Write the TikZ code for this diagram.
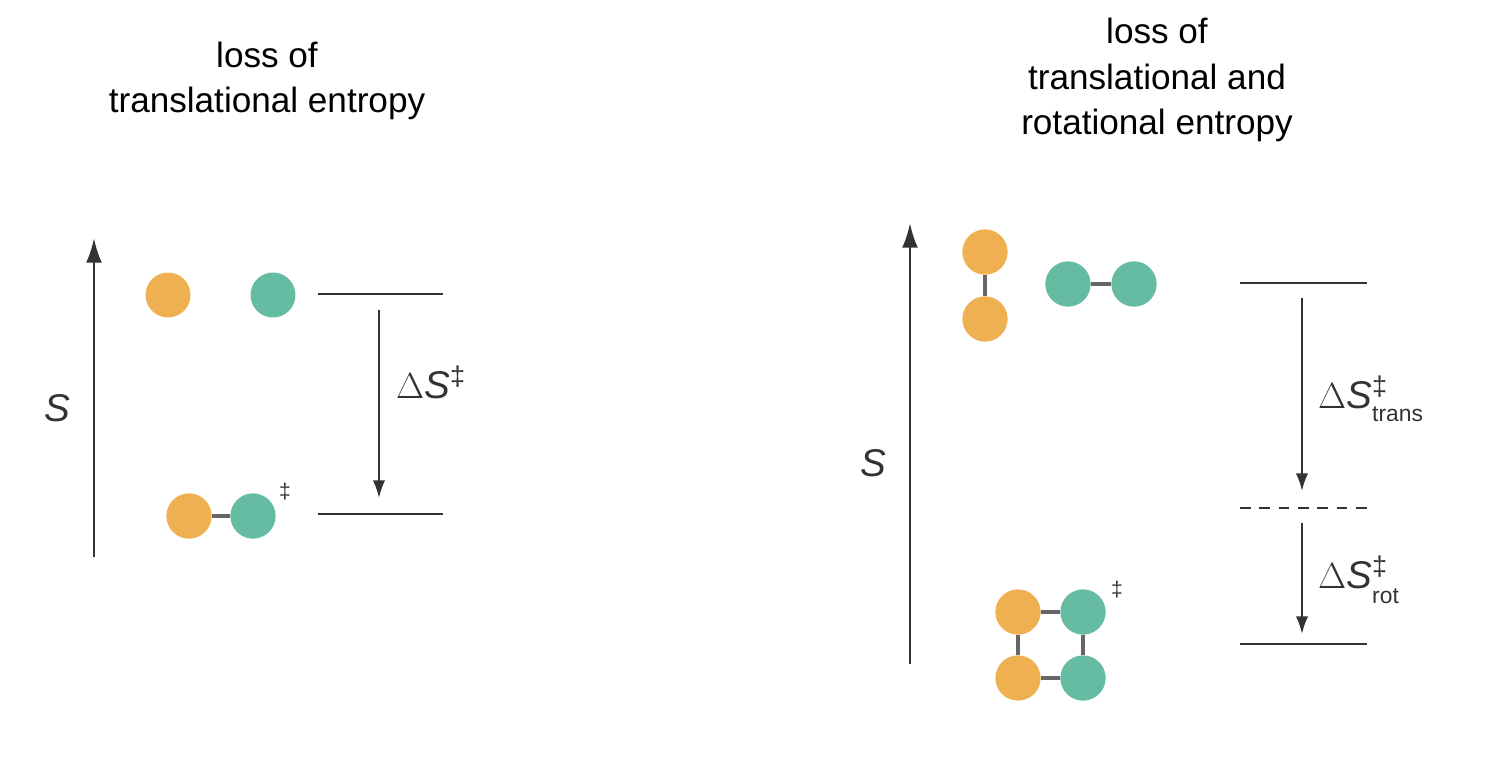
\documentclass[tikz,border=0pt]{standalone}
\usepackage{fontspec}
\setmainfont{Liberation Sans}
\usetikzlibrary{arrows.meta}
\definecolor{orng}{HTML}{EFB052}
\definecolor{teal2}{HTML}{66BBA3}
\definecolor{dk}{HTML}{333333}
\definecolor{bnd}{HTML}{666666}
\begin{document}
\begin{tikzpicture}[x=0.02cm,y=-0.02cm,
  ttl/.style={font=\fontsize{20}{26}\selectfont,text=black,align=center},
  lab/.style={font=\fontsize{22}{26}\selectfont,text=dk},
  o/.style={circle,fill=orng,minimum size=0.9cm,inner sep=0},
  t/.style={circle,fill=teal2,minimum size=0.9cm,inner sep=0},
  bond/.style={draw=bnd,line width=2.5pt},
  lvl/.style={draw=dk,line width=1.2pt},
  arr/.style={draw=dk,line width=1.2pt,-{Latex[length=10pt,width=7pt]}},
  ax/.style={draw=dk,line width=1.5pt,-{Latex[length=14pt,width=9pt]}}]
\useasboundingbox (0,0) rectangle (1498,762);
% left
\node[ttl] (t1) at (267,81) {loss of\\translational entropy};
\coordinate (a1s) at (94,557); \coordinate (a1e) at (94,238);
\draw[ax] (a1s) -- (a1e);
\node[lab] (s1) at (57,408) {\textit{S}};
\node[o] (o1) at (168,295) {};
\node[t] (c1) at (273,295) {};
\coordinate (l1a) at (318,294); \coordinate (l1b) at (443,294);
\coordinate (l2a) at (318,514); \coordinate (l2b) at (443,514);
\draw[lvl] (l1a) -- (l1b); \draw[lvl] (l2a) -- (l2b);
\coordinate (d1s) at (379,310); \coordinate (d1e) at (379,498);
\draw[arr] (d1s) -- (d1e);
\node[lab,anchor=west] (ds1) at (390,382) {$\Delta$\textit{S}\textsuperscript{‡}};
\node[o] (o2) at (189,516) {};
\node[t] (c2) at (253,516) {};
\draw[bond] (o2) -- (c2);
\node[o] at (189,516) {}; \node[t] at (253,516) {};
\node[font=\fontsize{12}{14}\selectfont,text=dk] (dg1) at (285,492) {‡};
% right
\node[ttl] (t2) at (1157,80) {loss of\\translational and\\rotational entropy};
\coordinate (a2s) at (910,664); \coordinate (a2e) at (910,223);
\draw[ax] (a2s) -- (a2e);
\node[lab] (s2) at (873,463) {\textit{S}};
\node[o] (o3) at (985,252) {}; \node[o] (o4) at (985,319) {};
\draw[bond] (o3) -- (o4);
\node[o] at (985,252) {}; \node[o] at (985,319) {};
\node[t] (c3) at (1068,284) {}; \node[t] (c4) at (1134,284) {};
\draw[bond] (c3) -- (c4);
\node[t] at (1068,284) {}; \node[t] at (1134,284) {};
\coordinate (m1a) at (1240,283); \coordinate (m1b) at (1367,283);
\coordinate (m2a) at (1240,508); \coordinate (m2b) at (1367,508);
\coordinate (m3a) at (1240,644); \coordinate (m3b) at (1367,644);
\draw[lvl] (m1a) -- (m1b);
\draw[lvl,dash pattern=on 6pt off 5pt] (m2a) -- (m2b);
\draw[lvl] (m3a) -- (m3b);
\coordinate (e1s) at (1302,298); \coordinate (e1e) at (1302,491);
\coordinate (e2s) at (1302,523); \coordinate (e2e) at (1302,634);
\draw[arr] (e1s) -- (e1e); \draw[arr] (e2s) -- (e2e);
\node[lab,anchor=west] (ds2) at (1312,392) {$\Delta$\textit{S}\textsuperscript{‡}};
\node[font=\fontsize{13}{14}\selectfont,text=dk,anchor=west] (tr) at (1366,414) {trans};
\node[lab,anchor=west] (ds3) at (1312,572) {$\Delta$\textit{S}\textsuperscript{‡}};
\node[font=\fontsize{13}{14}\selectfont,text=dk,anchor=west] (rt) at (1366,596) {rot};
\node[o] (o5) at (1018,612) {}; \node[o] (o6) at (1018,678) {};
\node[t] (c5) at (1083,612) {}; \node[t] (c6) at (1083,678) {};
\draw[bond] (o5) -- (c5) -- (c6) -- (o6) -- (o5);
\node[o] at (1018,612) {}; \node[o] at (1018,678) {};
\node[t] at (1083,612) {}; \node[t] at (1083,678) {};
\node[font=\fontsize{12}{14}\selectfont,text=dk] (dg2) at (1117,590) {‡};
\end{tikzpicture}
\end{document}
